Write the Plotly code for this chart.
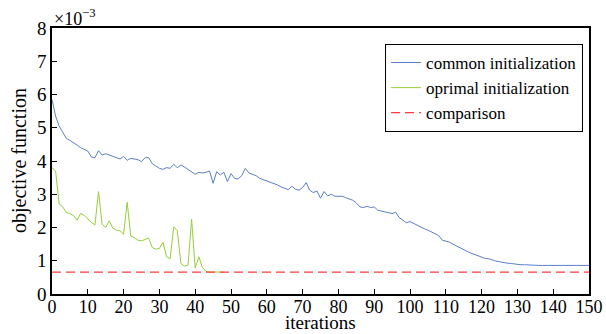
import plotly.graph_objects as go

# values in units of 1e-3
iterations = list(range(0, 151))
common_init = [
    5.85, 5.35, 5.05, 4.85, 4.68, 4.62, 4.56, 4.48, 4.40, 4.36,
    4.30, 4.12, 4.10, 4.31, 4.18, 4.22, 4.18, 4.16, 4.12, 4.06,
    4.14, 4.02, 4.08, 4.06, 4.04, 3.98, 4.10, 4.10, 3.92, 3.85,
    3.78, 3.75, 3.80, 3.78, 3.90, 3.80, 3.88, 3.82, 3.74, 3.68,
    3.60, 3.66, 3.64, 3.66, 3.70, 3.33, 3.68, 3.58, 3.66, 3.38,
    3.62, 3.48, 3.46, 3.56, 3.78, 3.64, 3.60, 3.56, 3.48, 3.44,
    3.40, 3.38, 3.33, 3.28, 3.22, 3.18, 3.14, 3.24, 3.15, 3.12,
    3.20, 3.35, 3.12, 3.05, 3.10, 2.88, 3.08, 2.95, 3.00, 2.94,
    2.93, 2.94, 2.90, 2.85, 2.82, 2.74, 2.62, 2.60, 2.64, 2.60,
    2.62, 2.52, 2.50, 2.48, 2.46, 2.42, 2.46, 2.30, 2.22, 2.14,
    2.18, 2.12, 2.08, 2.01, 1.96, 1.92, 1.87, 1.83, 1.76, 1.62,
    1.60, 1.56, 1.50, 1.44, 1.38, 1.32, 1.28, 1.23, 1.19, 1.15,
    1.12, 1.07, 1.06, 1.02, 0.99, 0.97, 0.94, 0.93, 0.92, 0.90,
    0.89, 0.88, 0.88, 0.87, 0.87, 0.87, 0.86, 0.86, 0.86, 0.86,
    0.86, 0.86, 0.86, 0.86, 0.86, 0.86, 0.86, 0.86, 0.86, 0.86,
    0.86,
]
optimal_iterations = list(range(0, 49))
optimal_init = [
    3.80, 3.70, 2.70, 2.62, 2.45, 2.42, 2.36, 2.22, 2.42, 2.36,
    2.26, 2.15, 2.08, 3.08, 2.10, 2.00, 2.20, 1.98, 1.92, 1.90,
    1.80, 2.76, 1.74, 1.70, 1.62, 1.60, 1.64, 1.68, 1.40, 1.35,
    1.37, 1.56, 1.12, 1.06, 2.02, 1.90, 0.92, 0.84, 0.87, 2.25,
    0.78, 1.12, 0.80, 0.68, 0.66, 0.66, 0.66, 0.66, 0.66,
]
comparison_x = [0, 150]
comparison_y = [0.66, 0.66]

x_ticks = list(range(0, 151, 10))
y_ticks = list(range(0, 9))

font_family = "Liberation Serif"

fig = go.Figure()
fig.add_trace(go.Scatter(x=iterations, y=common_init, mode="lines",
                         name="common initialization",
                         line=dict(color="#5A7FCA", width=1)))
fig.add_trace(go.Scatter(x=optimal_iterations, y=optimal_init, mode="lines",
                         name="oprimal initialization",
                         line=dict(color="#9ACD3A", width=1)))
fig.add_trace(go.Scatter(x=comparison_x, y=comparison_y, mode="lines",
                         name="comparison",
                         line=dict(color="#FF3B3B", width=1.2, dash="9px,5px")))

fig.update_layout(
    width=606, height=334,
    margin=dict(l=52, r=17, t=28, b=40, autoexpand=False),
    paper_bgcolor="white", plot_bgcolor="white",
    font=dict(family=font_family, size=18, color="black"),
    showlegend=True,
    legend=dict(x=0.989, y=0.94, xanchor="right", yanchor="top",
                bgcolor="white", bordercolor="black", borderwidth=1,
                font=dict(size=17, family=font_family),
                tracegroupgap=0, itemwidth=30),
    annotations=[
        dict(text="×10<sup>−3</sup>", xref="paper", yref="paper",
             x=0.0, y=1.0, xanchor="left", yanchor="bottom",
             showarrow=False, font=dict(size=18, family=font_family),
             yshift=-3),
        dict(text="iterations", xref="paper", yref="paper",
             x=0.5, y=0, xanchor="center", yanchor="bottom",
             showarrow=False, font=dict(size=19, family=font_family),
             yshift=-41),
        dict(text="objective function", xref="paper", yref="paper",
             x=0, y=0.5, xanchor="center", yanchor="middle", textangle=-90,
             showarrow=False, font=dict(size=20, family=font_family),
             xshift=-33),
    ],
)
fig.update_xaxes(range=[0, 150], tickvals=x_ticks, showline=True, mirror=True,
                 linecolor="black", linewidth=1.5, ticks="inside", ticklen=5,
                 tickcolor="black", showgrid=False, zeroline=False,
                 automargin=False, ticklabelstandoff=-4,
                 tickfont=dict(size=18, family=font_family))
fig.update_yaxes(range=[0, 8], tickvals=y_ticks, showline=True, mirror=True,
                 linecolor="black", linewidth=1.5, ticks="inside", ticklen=5,
                 tickcolor="black", showgrid=False, zeroline=False,
                 automargin=False, tickfont=dict(size=19, family=font_family))

fig.write_html("out.html", config={"displayModeBar": False},
               post_script="document.body.style.margin='0';document.body.style.padding='0';")
